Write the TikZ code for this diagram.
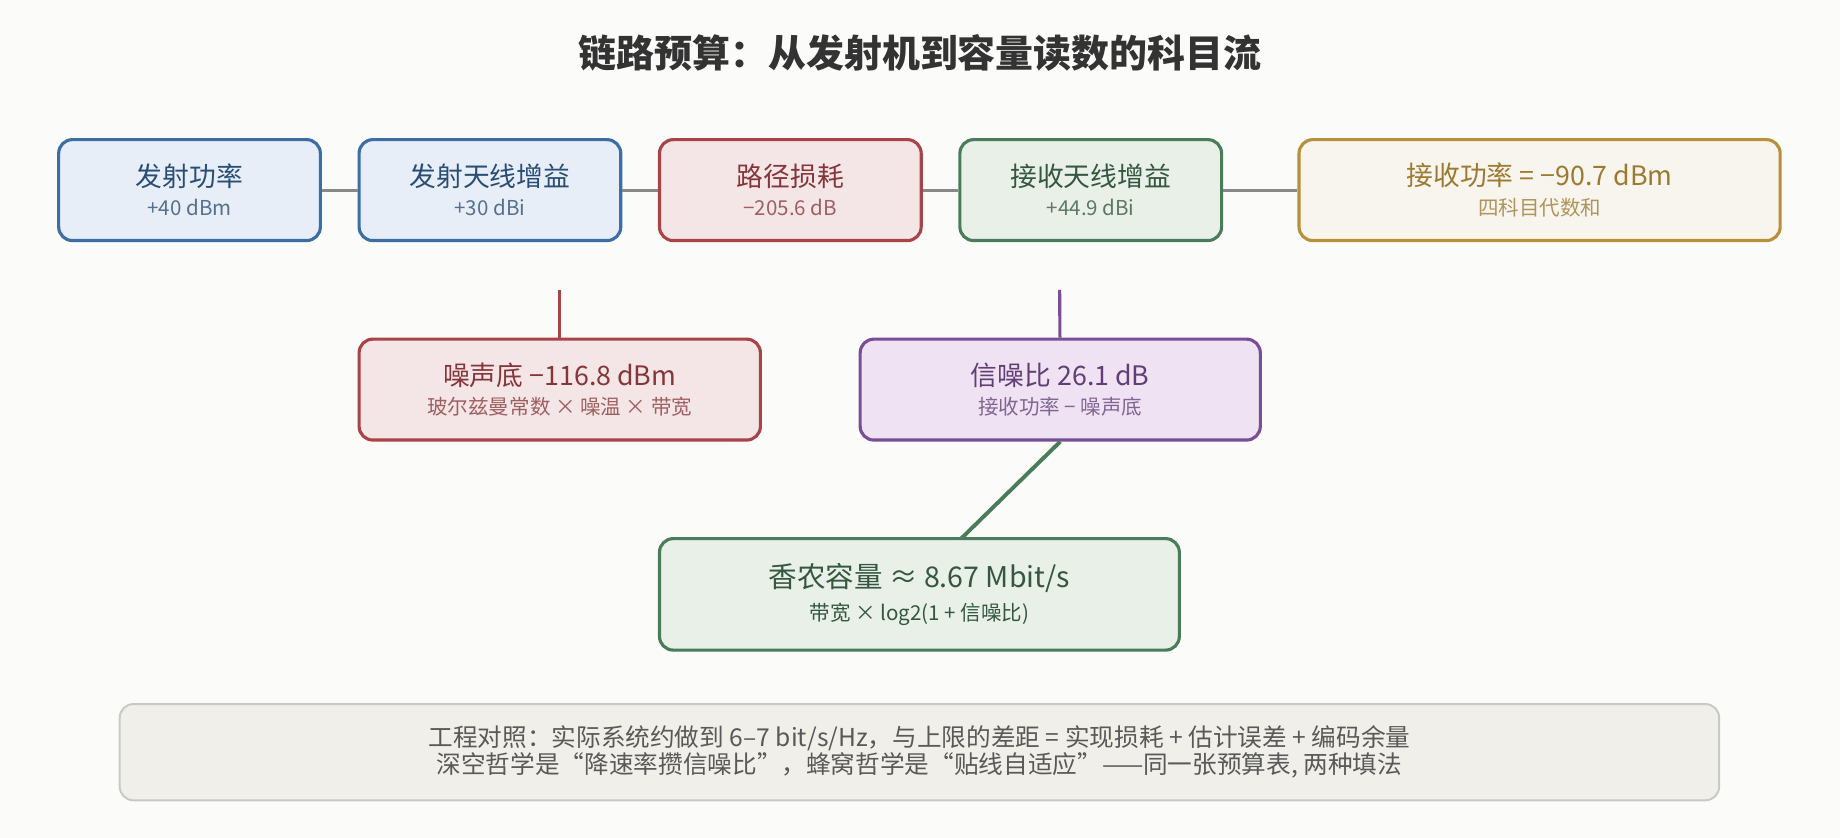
\documentclass[tikz,border=0pt]{standalone}
\usepackage{fontspec}
\setmainfont{Noto Sans CJK SC}
\usetikzlibrary{positioning}
\definecolor{bgc}{HTML}{FBFBF9}
\definecolor{blueD}{HTML}{3A6EA5}\definecolor{blueF}{HTML}{E8EEF8}
\definecolor{redD}{HTML}{A84448}\definecolor{redF}{HTML}{F4E6E6}
\definecolor{greenD}{HTML}{4A7C59}\definecolor{greenF}{HTML}{E8F0E8}
\definecolor{goldD}{HTML}{B8903A}\definecolor{goldF}{HTML}{F8F5EE}
\definecolor{purpD}{HTML}{7A4E94}\definecolor{purpF}{HTML}{EFE3F3}
\definecolor{noteF}{HTML}{F0EFE9}\definecolor{noteD}{HTML}{C8C8C8}
\definecolor{linkc}{HTML}{888888}
\newcommand{\boxtext}[3]{{\fontsize{13.7}{16}\selectfont\color{#1}#2}\\[3pt]{\fontsize{10.5}{13}\selectfont\color{#1!80}#3}}

\begin{document}
\begin{tikzpicture}[x=0.6pt,y=-0.6pt,
    box/.style={draw,rounded corners=7pt,line width=1.6pt,align=center,inner sep=0pt},
    row/.style={box,minimum height=51.6pt},
    blk/.style={row,draw=blueD,fill=blueF,minimum width=133.8pt},
    link/.style={line width=1.6pt,draw=linkc}]
  \fill[bgc] (0,0) rectangle (1568,714);
  \node (title) at (784,45) {\fontsize{19.4}{23}\selectfont\bfseries\color{black!80}链路预算：从发射机到容量读数的科目流};

  \node[blk] (tx) at (161.5,162) {\boxtext{blueD!70!black}{发射功率}{+40 dBm}};
  \node[blk] (txa) at (417.5,162) {\boxtext{blueD!70!black}{发射天线增益}{+30 dBi}};
  \node[row,draw=redD,fill=redF,minimum width=133.8pt] (path) at (673.5,162) {\boxtext{redD!80!black}{路径损耗}{−205.6 dB}};
  \node[row,draw=greenD,fill=greenF,minimum width=133.8pt] (rxa) at (929.5,162) {\boxtext{greenD!70!black}{接收天线增益}{+44.9 dBi}};
  \node[row,draw=goldD,fill=goldF,minimum width=246pt] (rx) at (1312,162) {\boxtext{goldD!85!black}{接收功率 = −90.7 dBm}{四科目代数和}};

  \node[row,draw=redD,fill=redF,minimum width=205.2pt] (noise) at (477,332) {\boxtext{redD!80!black}{噪声底 −116.8 dBm}{玻尔兹曼常数 × 噪温 × 带宽}};
  \node[row,draw=purpD,fill=purpF,minimum width=204.6pt] (snr) at (903.5,332) {\boxtext{purpD!80!black}{信噪比 26.1 dB}{接收功率 − 噪声底}};
  \node[box,draw=greenD,fill=greenF,minimum width=265.8pt,minimum height=57pt] (cap) at (783.5,506.5)
    {{\fontsize{14.6}{17}\selectfont\color{greenD!70!black}香农容量 ≈ 8.67 Mbit/s}\\[5pt]{\fontsize{10.5}{13}\selectfont\color{greenD!70!black}带宽 × log2(1 + 信噪比)}};

  \node[box,draw=noteD,line width=1pt,fill=noteF,minimum width=817.8pt,minimum height=49.2pt] (note) at (783.5,641)
    {\fontsize{12.6}{16}\selectfont\color{black!65}工程对照：实际系统约做到 6–7 bit/s/Hz，与上限的差距 = 实现损耗 + 估计误差 + 编码余量\\
     \fontsize{12.6}{16}\selectfont\color{black!65}深空哲学是“降速率攒信噪比”，蜂窝哲学是“贴线自适应”——同一张预算表, 两种填法};

  \coordinate (nz) at (477,247);
  \coordinate (sz) at (903,247);
  \coordinate (cz) at (819,459);
  \draw[link] (tx) -- (txa);
  \draw[link] (txa) -- (path);
  \draw[link] (path) -- (rxa);
  \draw[link] (rxa) -- (rx);
  \draw[line width=1.6pt,redD] (nz) -- (noise);
  \draw[line width=1.6pt,purpD] (sz) -- (snr);
  \draw[line width=2pt,greenD] (snr.south) -- (cz);
\end{tikzpicture}
\end{document}
